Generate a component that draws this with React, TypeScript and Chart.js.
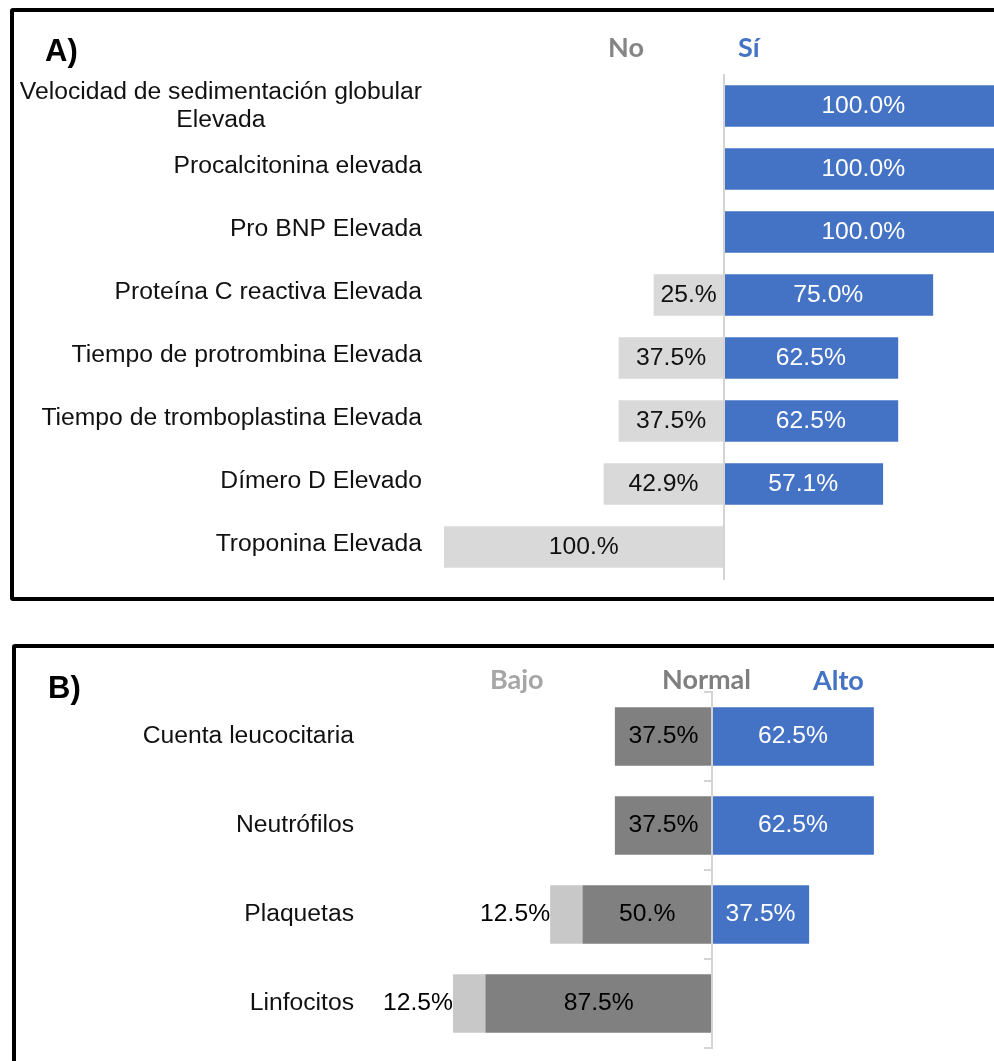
import { useEffect, useRef } from "react";
import { Chart, registerables } from "chart.js";

Chart.register(...registerables);

// Panel A – elevated laboratory markers (share of patients, %)
const labFindings: (string | string[])[] = [
  ["Velocidad de sedimentación globular", "Elevada"],
  "Procalcitonina elevada",
  "Pro BNP Elevada",
  "Proteína C reactiva Elevada",
  "Tiempo de protrombina Elevada",
  "Tiempo de tromboplastina Elevada",
  "Dímero D Elevado",
  "Troponina Elevada",
];
const noShare = [0, 0, 0, 25, 37.5, 37.5, 42.9, 100];
const yesShare = [100, 100, 100, 75, 62.5, 62.5, 57.1, 0];

// Panel B – blood cell counts (share of patients, %)
const cellCounts = ["Cuenta leucocitaria", "Neutrófilos", "Plaquetas", "Linfocitos"];
const lowShare = [0, 0, 12.5, 12.5];
const normalShare = [37.5, 37.5, 50, 87.5];
const highShare = [62.5, 62.5, 37.5, 0];

const BLUE = "#4472c4";
const LABEL_FONT = '24.7px "Liberation Sans", Arial, sans-serif';
const HEADER_FONT = 'bold 27px Lato, "Open Sans", sans-serif';
const TITLE_FONT = 'bold 31px "Liberation Sans", Arial, sans-serif';

function formatShare(v: number, style: string) {
  if (style === "fixed") return v.toFixed(1) + "%";
  return Number.isInteger(v) ? `${v}.%` : `${v}%`;
}

// Category names drawn on the far left; multi-line names are centred line by line
const categoryLabels = {
  id: "categoryLabels",
  afterDraw(chart: any, _args: any, opts: any) {
    const { ctx } = chart;
    const yScale = chart.scales.y;
    ctx.save();
    ctx.font = opts.labelFont;
    ctx.fillStyle = opts.labelColor;
    ctx.textAlign = "center";
    ctx.textBaseline = "middle";
    chart.data.labels.forEach((label: string | string[], i: number) => {
      const lines = Array.isArray(label) ? label : [label];
      const w = Math.max(...lines.map((l) => ctx.measureText(l).width));
      const cx = opts.rightEdge - w / 2;
      const cy = yScale.getPixelForValue(i) + (lines.length === 1 ? opts.shiftY : 0);
      lines.forEach((line, j) => {
        ctx.fillText(line, cx, cy + (j - (lines.length - 1) / 2) * opts.lineHeight);
      });
    });
    ctx.restore();
  },
};

// Percentage text on every non-empty bar
const barValues = {
  id: "barValues",
  afterDatasetsDraw(chart: any, _args: any, opts: any) {
    const { ctx } = chart;
    ctx.save();
    ctx.font = opts.valueFont;
    ctx.textBaseline = "middle";
    chart.data.datasets.forEach((ds: any, di: number) => {
      const meta = chart.getDatasetMeta(di);
      meta.data.forEach((bar: any, i: number) => {
        const v = Math.abs(ds.data[i]);
        if (!v) return;
        const text = formatShare(v, ds.valueFormat);
        const { x, base, y } = bar.getProps(["x", "base", "y"], true);
        ctx.fillStyle = ds.valueColor;
        if (ds.valuePlacement === "outside") {
          ctx.textAlign = "right";
          ctx.fillText(text, Math.min(x, base), y);
        } else {
          ctx.textAlign = "center";
          ctx.fillText(text, (x + base) / 2, y);
        }
      });
    });
    ctx.restore();
  },
};

// Panel letter and series headers
const headers = {
  id: "headers",
  afterDraw(chart: any, _args: any, opts: any) {
    const { ctx } = chart;
    ctx.save();
    ctx.textAlign = "left";
    ctx.textBaseline = "alphabetic";
    opts.items.forEach((it: any) => {
      ctx.font = it.font;
      ctx.fillStyle = it.color;
      ctx.fillText(it.text, it.x, it.y);
    });
    ctx.restore();
  },
};

function buildOptions(padding: any, axisTicks: boolean, labelShiftY: number, headerItems: any[]) {
  return {
    indexAxis: "y" as const,
    responsive: false,
    animation: false as const,
    layout: { padding },
    datasets: { bar: { barPercentage: 0.66, categoryPercentage: 1, borderWidth: 0 } },
    scales: {
      x: { type: "linear" as const, min: -100, max: 100, stacked: true, display: false },
      y: {
        type: "category" as const,
        stacked: true,
        position: { x: 0 },
        ticks: { display: false },
        grid: {
          display: true,
          drawOnChartArea: false,
          drawTicks: axisTicks,
          tickLength: 7,
          offset: true,
          color: "#d4d4d4",
          lineWidth: 2,
          z: 1,
        },
        border: { display: true, color: "#d4d4d4", width: 2, z: 1 },
      },
    },
    plugins: {
      legend: { display: false },
      tooltip: { enabled: false },
      categoryLabels: {
        labelFont: LABEL_FONT,
        labelColor: "#111111",
        rightEdge: axisTicks ? 354 : 422,
        lineHeight: 28.5,
        shiftY: labelShiftY,
      },
      barValues: { valueFont: LABEL_FONT },
      headers: { items: headerItems },
    },
  };
}

export default function App() {
  const aRef = useRef<HTMLCanvasElement>(null);
  const bRef = useRef<HTMLCanvasElement>(null);

  useEffect(() => {
    const chartA = new Chart(aRef.current!, {
      type: "bar",
      data: {
        labels: labFindings,
        datasets: [
          {
            label: "No",
            data: noShare.map((v) => -v),
            backgroundColor: "#d9d9d9",
            valueColor: "#111111",
            valueFormat: "trim",
          } as any,
          {
            label: "Sí",
            data: yesShare,
            backgroundColor: BLUE,
            valueColor: "#ffffff",
            valueFormat: "fixed",
          } as any,
        ],
      },
      options: buildOptions({ left: 444, right: 37, top: 74.5, bottom: 21.5 }, false, -3, [
        { text: "A)", x: 45, y: 61, font: TITLE_FONT, color: "#000000" },
        { text: "No", x: 608, y: 57, font: HEADER_FONT, color: "#858585" },
        { text: "Sí", x: 738, y: 57, font: HEADER_FONT, color: BLUE },
      ]) as any,
      plugins: [categoryLabels, barValues, headers],
    });

    const chartB = new Chart(bRef.current!, {
      type: "bar",
      data: {
        labels: cellCounts,
        datasets: [
          {
            label: "Normal",
            data: normalShare.map((v) => -v),
            backgroundColor: "#808080",
            valueColor: "#000000",
            valueFormat: "trim",
          } as any,
          {
            label: "Bajo",
            data: lowShare.map((v) => -v),
            backgroundColor: "#c8c8c8",
            valueColor: "#000000",
            valueFormat: "trim",
            valuePlacement: "outside",
          } as any,
          {
            label: "Alto",
            data: highShare,
            backgroundColor: BLUE,
            valueColor: "#ffffff",
            valueFormat: "trim",
          } as any,
        ],
      },
      options: buildOptions({ left: 453, right: 69, top: 62, bottom: 13 }, true, 0, [
        { text: "B)", x: 48, y: 68, font: TITLE_FONT, color: "#000000" },
        { text: "Bajo", x: 490, y: 59, font: HEADER_FONT, color: "#a6a6a6" },
        { text: "Normal", x: 662, y: 59, font: HEADER_FONT, color: "#7f7f7f" },
        { text: "Alto", x: 813, y: 60, font: HEADER_FONT, color: BLUE },
      ]) as any,
      plugins: [categoryLabels, barValues, headers],
    });

    return () => {
      chartA.destroy();
      chartB.destroy();
    };
  }, []);

  return (
    <div
      style={{
        position: "fixed",
        left: 0,
        top: 0,
        width: 994,
        height: 1061,
        overflow: "hidden",
        background: "#ffffff",
      }}
    >
      <div
        style={{
          position: "absolute",
          left: 10,
          top: 8,
          width: 1100,
          height: 593,
          border: "4px solid #000",
          boxSizing: "border-box",
          borderRadius: 3,
        }}
      />
      <div
        style={{
          position: "absolute",
          left: 12,
          top: 644,
          width: 1100,
          height: 600,
          border: "4px solid #000",
          boxSizing: "border-box",
          borderRadius: 3,
        }}
      />
      <canvas ref={aRef} width={1040} height={600} style={{ position: "absolute", left: 0, top: 0 }} />
      <canvas ref={bRef} width={1040} height={431} style={{ position: "absolute", left: 0, top: 630 }} />
    </div>
  );
}
